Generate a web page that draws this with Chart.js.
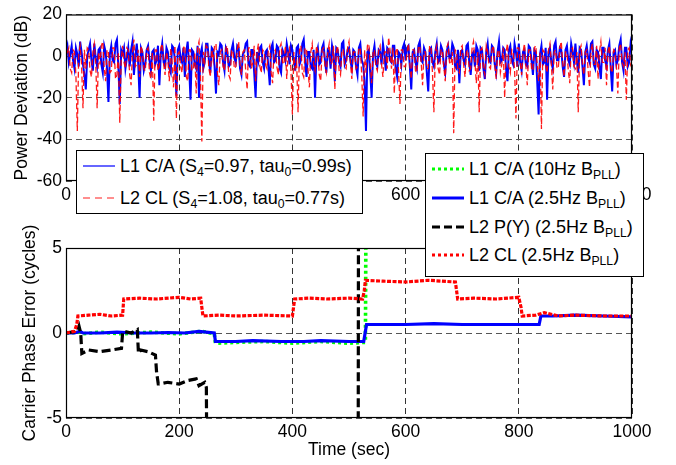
<!DOCTYPE html>
<html>
<head>
<meta charset="utf-8">
<script src="https://cdn.jsdelivr.net/npm/chart.js@4"></script>
<style>
  html,body{margin:0;padding:0;background:#fff;}
  #wrap{position:relative;width:676px;height:465px;overflow:hidden;font-family:'Liberation Sans',Arial,Helvetica,sans-serif;}
  #wrap canvas{position:absolute;left:0;}
  #cvTop{top:0;}
  #cvBot{top:210px;}
  .leg{position:absolute;background:#fff;border:1px solid #000;box-sizing:border-box;font-size:18px;color:#000;}
  .leg .row{position:absolute;left:6px;height:22px;display:flex;align-items:center;white-space:nowrap;}
  .leg .row span{margin-left:5px;}
  .leg sub{font-size:0.68em;vertical-align:baseline;position:relative;top:0.4em;line-height:0;}
</style>
</head>
<body>
<div id="wrap">
  <canvas id="cvTop" width="676" height="215"></canvas>
  <canvas id="cvBot" width="676" height="255"></canvas>
  <div class="leg" id="leg1" style="left:76px;top:150px;width:287px;height:64px;"></div>
  <div class="leg" id="leg2" style="left:425px;top:153px;width:219px;height:124px;"></div>
</div>
<script>
// ---------- data: power deviation (dB), one sample every 2.5 s ----------
const TIME_STEP = 2.5;
const l1Power = [
  2, 5, -3, 1, 5, -2, -6, 4, 1, -5, 7, 2, -4, -9, -16, 0, 3, 6, -2, -7,
  6, -1, -5, 3, 4, -4, -8, 5, 2, -6, -22, 1, 5, -2, -3, 6, 8, -5, -23, 3,
  1, 4, -6, -1, 4, -5, 3, 7, -9, 0, 6, -3, -20, 4, 2, -7, -4, 3, 5, -2,
  -7, 2, 3, -4, -2, 5, -14, 1, 6, -3, -5, 4, 2, -6, -8, 5, 4, -2, -19, 3,
  5, -1, -3, 4, -10, 2, 7, -5, -21, 3, 2, -4, -6, 5, -20, 1, 4, -6, -3, 6,
  6, -2, -8, 4, 3, -5, -18, 2, 1, 6, 5, -3, -7, 4, 2, -5, -4, 3, 6, -1,
  -3, 5, 4, -6, -9, 1, 2, 6, 7, -4, -5, 3, 3, -8, -20, 2, -2, 4, 5, -3,
  -6, 2, 3, -5, -14, 4, 6, -3, -2, 5, 4, -6, -8, 3, 1, -2, 6, 2, -4, 5,
  3, -2, -7, 4, 5, -4, -2, 6, 8, -3, -10, 2, 2, -5, -6, 3, -20, 1, 4, -4,
  -3, 4, 6, -2, -8, 3, 2, -6, 5, 1, -12, 4, 3, -3, -5, 6, 7, -4, -2, 3,
  4, -2, -6, 3, 2, -5, -9, 4, 6, -2, -4, -12, -36, 2, 3, -8, -20, 1, 5, -3,
  -5, 3, 2, -4, 6, 1, -7, 4, 3, -2, -3, 5, 5, -6, -10, 2, 1, -4, 4, 6,
  -2, 4, 5, -5, -16, 2, 3, -3, -6, 5, 7, -2, -3, 4, 2, -8, -17, 3, 4, -3,
  -5, 2, 6, -3, -2, 5, 3, -4, -8, 2, 5, -1, -1, 6, 4, -5, -6, 3, -13, 2,
  3, -2, -4, 5, 6, -3, -9, 1, 2, -5, 5, 3, -7, 4, 3, -6, -11, 2, 6, -2,
  -3, 5, 4, -4, -8, 2, 7, -3, -2, 4, 3, -6, -12, 3, 5, -2, -4, 6, 2, -5,
  6, -3, -7, 2, 3, -4, -5, 5, 4, -2, -9, 3, 2, -12, -28, 1, 5, -4, -3, 4,
  -21, 2, 4, -3, -6, 5, 7, -2, -2, 4, 3, -5, -10, 3, 5, -2, -4, 6, 2, -3,
  6, -2, -8, 4, 3, -5, -14, 2, 5, -1, -3, 6, 7, -4, -6, 3, 2, -5, -11, 4,
  4, -2, -5, 3, 6, -6, -17, 2, 3, -4, -2, 5, 8, -3, -7, 4, 4, -5, -3, 6,
  2
];
const l2Power = [
  -3, 2, 4, -6, -8, 3, 2, -9, -36, 1, 5, -4, -25, 3, -6, 4, 3, -7, -10, 2,
  6, -3, -25, 2, -4, 5, 7, -6, -12, 3, 2, -8, -7, 4, 4, -11, -9, 2, -32, -2,
  5, -3, -6, 4, 3, -9, -14, 2, 8, -5, -4, 3, -10, 5, 2, -6, -7, 3, 4, -8,
  -11, 2, -31, 3, 3, -7, -5, 4, 6, -4, -9, 2, -2, -12, 4, -3, -15, 5, -30, 1,
  2, -5, -8, 4, 5, -10, -12, 3, 3, -7, -6, 2, -18, 4, 7, -9, -41, 2, -3, 5,
  4, -6, -10, 3, -2, 5, 6, -8, -14, 2, 3, -5, -7, 4, 5, -9, -11, 3, 2, -6,
  -5, 3, 7, -4, -9, 2, 3, -7, -16, 4, 4, -6, -3, 5, -12, 2, 6, -5, -8, 3,
  2, -4, -6, 3, 5, -8, -13, 2, 3, -5, -9, 4, 6, -3, -4, 5, -11, 2, 4, -7,
  -28, 2, -6, -3, -27, 3, 5, -8, -10, 4, 3, -6, -15, 2, 6, -4, -7, 5, 2, -9,
  -12, 3, 4, -5, -8, 2, 6, -4, -3, 5, -16, 2, 5, -7, -9, 3, 3, -5, -6, 4,
  7, -3, -11, 2, 2, -6, -5, 4, 4, -9, -29, 3, -8, 5, 6, -4, -13, 2, 3, -5,
  -7, 3, 5, -4, -10, 2, 2, -6, 9, 3, -6, 4, -18, 2, 4, -7, -23, 3, 3, -5,
  -5, 2, 6, -4, -11, 3, 3, -7, -8, 4, 5, -3, -14, 2, 2, -6, -6, 5, 4, -8,
  -27, 2, 5, -6, -9, 3, 3, -5, -12, 4, 6, -3, -4, 2, -37, 3, 2, -7, -8, 4,
  5, -4, -10, 2, 3, -7, -6, 4, 7, -3, -13, 2, -27, 3, 4, -6, -9, 5, 2, -5,
  -6, 3, 5, -4, -11, 2, 3, -8, -4, 4, -20, 2, 6, -5, -8, 3, 2, -6, -30, 4,
  4, -3, -9, 2, 6, -5, -14, 3, 3, -6, -7, 4, 5, -4, -12, 2, -35, 3, 2, -5,
  -8, 3, 6, -4, -16, 2, 3, -6, -5, 4, 7, -3, -10, 2, 2, -7, -13, 3, 4, -5,
  -6, 2, -27, 3, 5, -4, -9, 2, 3, -7, -15, 3, 6, -4, -4, 5, -11, 2, 7, -3,
  -3, 4, -14, 2, 5, -6, -8, 3, 2, -5, -18, 4, 6, -3, -5, 2, -21, 3, 4, -4,
  -2
];

// ---------- data: carrier phase error (cycles) ----------
const caWideT = [0, 10, 20, 30, 60, 100, 150, 200, 240, 262, 264, 300, 350, 400, 450, 500, 529, 531, 1000];
const caWideY = [0, 0, 0.1, -0.05, 0.05, -0.05, 0.05, -0.05, 0.1, -0.05, -0.6, -0.55, -0.5, -0.6, -0.5, -0.6, -0.55, 15, 15];

const caNarrowT = [0, 15, 25, 30, 60, 90, 120, 150, 180, 210, 235, 262, 264, 300, 330, 380, 420, 450, 500, 526, 529, 531, 560, 600, 650, 700, 760, 800, 836, 839, 860, 900, 950, 1000];
const caNarrowY = [0, 0, 0.1, 0, 0, 0.05, 0, 0, 0.03, 0, 0.1, 0, -0.5, -0.5, -0.45, -0.5, -0.5, -0.45, -0.5, -0.5, 0.1, 0.5, 0.5, 0.5, 0.55, 0.5, 0.5, 0.5, 0.5, 1.0, 1.0, 1.05, 1.0, 0.95];

const pyT = [0, 10, 20, 23, 26, 28, 40, 60, 80, 98, 100, 102, 115, 126, 128, 132, 145, 158, 160, 163, 165, 180, 200, 215, 230, 235, 245, 248, 250, 516, 517, 1000];
const pyY = [0, 0.05, 0.1, 0.4, 0, -1.2, -1.0, -1.1, -1.0, -0.9, 0, 0.1, 0, 0.2, -1.2, -1.0, -1.1, -1.3, -2.3, -3, -3, -2.9, -3, -2.8, -2.7, -3.1, -2.9, -3.2, -15, -15, 15, 15];

const clT = [0, 15, 19, 21, 40, 60, 80, 100, 102, 130, 160, 200, 220, 238, 240, 242, 270, 300, 350, 400, 402, 404, 430, 460, 500, 524, 527, 529, 560, 600, 640, 688, 690, 692, 720, 760, 800, 804, 806, 830, 845, 870, 900, 950, 1000];
const clY = [0, 0.1, 0.5, 1, 1.05, 1.1, 1, 1.05, 2, 2.05, 2, 2.1, 2, 2.05, 1.5, 1, 1.05, 1, 1.05, 1, 1.5, 2, 2.05, 2, 2.05, 2, 2.5, 3.1, 3.05, 3, 3.1, 3, 2.5, 2, 2.05, 2, 2.1, 1.5, 1, 1.05, 1.2, 1, 1.05, 1, 1.0];

const timeTicks = [0, 200, 400, 600, 800, 1000];
const powerTicks = [-60, -40, -20, 0, 20];
const phaseTicks = [-5, 0, 5];

// ---------- legends ----------
const legendTop = [
  { html: "L1 C/A (S<sub>4</sub>=0.97, tau<sub>0</sub>=0.99s)", color: "#0000ff", w: 1.2, dash: "" },
  { html: "L2 CL (S<sub>4</sub>=1.08, tau<sub>0</sub>=0.77s)", color: "#ff6a6a", w: 1.4, dash: "7 5" }
];
const legendBot = [
  { html: "L1 C/A (10Hz B<sub>PLL</sub>)", color: "#00ff00", w: 3, dash: "3 3" },
  { html: "L1 C/A (2.5Hz B<sub>PLL</sub>)", color: "#0000ff", w: 3, dash: "" },
  { html: "L2 P(Y) (2.5Hz B<sub>PLL</sub>)", color: "#000000", w: 3, dash: "8 4" },
  { html: "L2 CL (2.5Hz B<sub>PLL</sub>)", color: "#ff0000", w: 3, dash: "3 3" }
];
function fillLegend(id, items, tops){
  document.getElementById(id).innerHTML = items.map((it, i) => `
    <div class="row" style="top:${tops[i]}px">
      <svg width="32" height="22"><line x1="0" y1="11" x2="32" y2="11" stroke="${it.color}" stroke-width="${it.w}" ${it.dash ? `stroke-dasharray="${it.dash}"` : ""}/></svg>
      <span>${it.html}</span>
    </div>`).join("");
}
fillLegend("leg1", legendTop, [4, 36]);
fillLegend("leg2", legendBot, [4, 33, 62, 90]);

// ---------- charts ----------
Chart.defaults.font.family = "'Liberation Sans', Arial, Helvetica, sans-serif";
Chart.defaults.font.size = 17.5;
Chart.defaults.color = "#000";

const pts = (xs, ys) => ys.map((y, i) => ({ x: xs[i], y }));
const sampled = ys => ys.map((y, i) => ({ x: i * TIME_STEP, y }));

const boxPlugin = {
  id: "box",
  afterDraw(chart){
    const { ctx, chartArea: { left, top, right, bottom } } = chart;
    ctx.save();
    ctx.setLineDash([]);
    ctx.strokeStyle = "#000"; ctx.lineWidth = 1.2;
    ctx.strokeRect(left + 0.5, top + 0.5, right - left - 1, bottom - top - 1);
    ctx.restore();
  }
};

function xAxis(height, title){
  return {
    type: "linear", min: 0, max: 1000,
    afterBuildTicks: s => { s.ticks = timeTicks.map(v => ({ value: v })); },
    afterFit: s => { s.height = height; },
    ticks: { padding: 4, maxRotation: 0, autoSkip: false, callback: v => String(v) },
    grid: { color: "#333", lineWidth: 1, drawTicks: false },
    border: { display: false, dash: [6, 4] },
    title: title ? { display: true, text: title, padding: 0 } : { display: false }
  };
}
function yAxis(width, min, max, ticks, title){
  return {
    min, max,
    afterBuildTicks: s => { s.ticks = ticks.map(v => ({ value: v })); },
    afterFit: s => { s.width = width; },
    ticks: { padding: 4, callback: v => String(v) },
    grid: { color: "#555", lineWidth: 1, drawTicks: false },
    border: { display: false, dash: [6, 4] },
    title: { display: true, text: title, padding: 0 }
  };
}

new Chart(document.getElementById("cvTop"), {
  type: "line",
  data: {
    datasets: [
      { label: "L2 CL", data: sampled(l2Power), borderColor: "rgba(255,0,0,0.9)", borderWidth: 1.3, borderDash: [6, 3], order: 0 },
      { label: "L1 C/A", data: sampled(l1Power), borderColor: "#0000ff", borderWidth: 2, order: 1 }
    ]
  },
  options: {
    responsive: false, animation: false,
    layout: { padding: { left: 12, top: 10, right: 44, bottom: 0 } },
    elements: { point: { radius: 0 }, line: { tension: 0 } },
    plugins: { legend: { display: false }, tooltip: { enabled: false } },
    scales: {
      x: xAxis(34, null),
      y: yAxis(54, -60, 20, powerTicks, "Power Deviation (dB)")
    }
  },
  plugins: [boxPlugin]
});

new Chart(document.getElementById("cvBot"), {
  type: "line",
  data: {
    datasets: [
      { label: "L2 CL (2.5Hz)", data: pts(clT, clY), borderColor: "#ff0000", borderWidth: 3.2, borderDash: [4, 1.5], order: 0 },
      { label: "L2 P(Y) (2.5Hz)", data: pts(pyT, pyY), borderColor: "#000000", borderWidth: 3.2, borderDash: [9, 4], order: 1 },
      { label: "L1 C/A (2.5Hz)", data: pts(caNarrowT, caNarrowY), borderColor: "#0000ff", borderWidth: 3.2, order: 2 },
      { label: "L1 C/A (10Hz)", data: pts(caWideT, caWideY), borderColor: "#00ff00", borderWidth: 3.6, borderDash: [3, 3], order: 3 }
    ]
  },
  options: {
    responsive: false, animation: false,
    layout: { padding: { left: 20, top: 38, right: 44, bottom: 4 } },
    elements: { point: { radius: 0 }, line: { tension: 0 } },
    plugins: { legend: { display: false }, tooltip: { enabled: false } },
    scales: {
      x: xAxis(43, "Time (sec)"),
      y: yAxis(46, -5, 5, phaseTicks, "Carrier Phase Error (cycles)")
    }
  },
  plugins: [boxPlugin]
});
</script>
</body>
</html>
